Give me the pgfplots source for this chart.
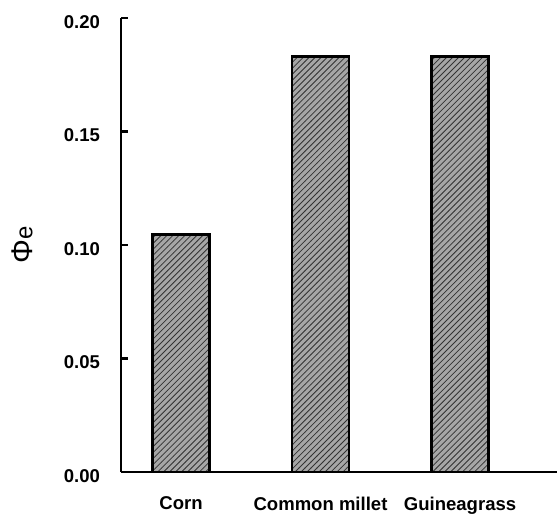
\documentclass[border=0pt]{standalone}
\usepackage{fontspec}
\setmainfont{Liberation Sans}
\usepackage{pgfplots}
\pgfplotsset{compat=1.18}
\usetikzlibrary{patterns}

\begin{document}
\begin{tikzpicture}
\useasboundingbox (-60.5bp,-22bp) rectangle (218bp,236bp);
\begin{axis}[
    scale only axis,
    width=218bp,
    height=227bp,
    ybar,
    bar width=28.5bp,
    xmin=-0.43, xmax=2.695,
    ymin=0, ymax=0.2,
    axis x line=bottom,
    axis y line=left,
    axis line style={-, line width=1.3bp},
    xtick={0,1,2},
    xticklabels={Corn, Common millet, Guineagrass},
    major x tick style={draw=none},
    ytick={0,0.05,0.10,0.15,0.20},
    tick align=inside,
    major tick length=3.5bp,
    y tick style={line width=1.3bp, black},
    /pgf/number format/assume math mode=true,
    yticklabel style={/pgf/number format/fixed, /pgf/number format/fixed zerofill,
        /pgf/number format/precision=2, anchor=east, xshift=-7bp, yshift=-2bp},
    scaled y ticks=false,
    tick label style={font=\bfseries\fontsize{9.3}{11}\selectfont},
    xticklabel style={yshift=-9bp},
    ylabel={{\fontsize{15}{17}\selectfont Φ}{\fontsize{12}{14}\selectfont e}},
    ylabel style={at={(axis description cs:-0.227,0.5)}, anchor=center},
]
\addplot[draw=black, line width=1.3bp, fill=gray!70,
    postaction={pattern=north east lines, pattern color=black!80}]
    coordinates {(0,0.1045) (1,0.183) (2,0.183)};
\end{axis}
\end{tikzpicture}
\end{document}
